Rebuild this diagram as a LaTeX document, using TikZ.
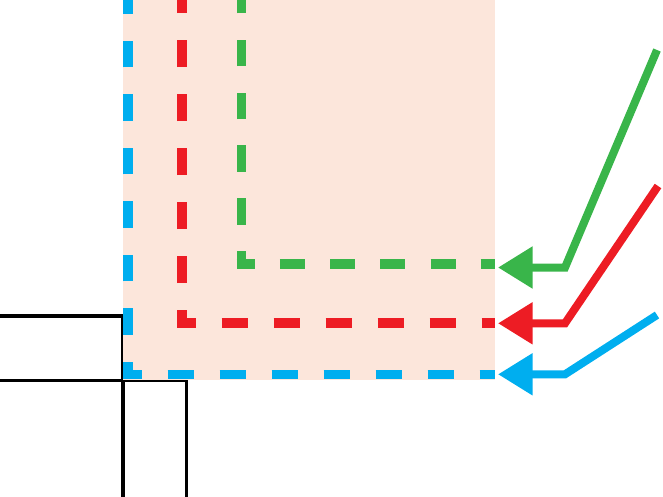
\documentclass[tikz,border=0pt]{standalone}
\usetikzlibrary{arrows.meta}
\definecolor{peach}{RGB}{252,230,219}
\definecolor{cblue}{RGB}{0,174,239}
\definecolor{cred}{RGB}{237,28,36}
\definecolor{cgreen}{RGB}{57,181,74}

\begin{document}
\begin{tikzpicture}[
    x=1pt, y=-1pt,
    wall/.style={draw=black, line width=3.5pt},
    leg/.style={line width=9.5pt},
    pointer/.style={line width=8pt, -{Triangle[length=34.5pt, width=40pt]}}
  ]
\useasboundingbox (0,0) rectangle (663,496);

% Walls
\draw[wall] (-5,316) -- (123,316) -- (123,505);
\draw[wall] (-5,380.5) -- (186.3,380.5) -- (186.3,505);

% Region
\fill[peach] (123.3,-5) rectangle (495,380);

% Dashed borders (corner x, corner y, vertical dash, horizontal dash)
\foreach \col/\cx/\cy/\v/\h in {cblue/128/374.5/26.75/26, cred/182/323/27/26, cgreen/241.3/264/26.4/25.1} {
  \pgfmathsetmacro\vphase{\v-13}
  \pgfmathsetmacro\hphase{\h-18.25}
  \coordinate (corner) at (\cx,\cy);
  \draw[leg, draw=\col, dash pattern=on \v pt off \v pt, dash phase=\vphase pt]
    (corner) -- (\cx,-30);
  \draw[leg, draw=\col, dash pattern=on \h pt off \h pt, dash phase=\hphase pt]
    ([xshift=-4.75pt]corner) -- (495,\cy);
}

% Arrows
\coordinate (gs) at (657,50);
\coordinate (gb) at (565,267.5);
\coordinate (gt) at (498,267.5);
\coordinate (rs) at (658,186);
\coordinate (rb) at (565,323.3);
\coordinate (rt) at (498,323.3);
\coordinate (bs) at (657,315);
\coordinate (bb) at (565,374.3);
\coordinate (bt) at (498,374.3);

\draw[pointer, cgreen] (gs) -- (gb) -- (gt);
\draw[pointer, cred] (rs) -- (rb) -- (rt);
\draw[pointer, cblue] (bs) -- (bb) -- (bt);

\end{tikzpicture}
\end{document}
